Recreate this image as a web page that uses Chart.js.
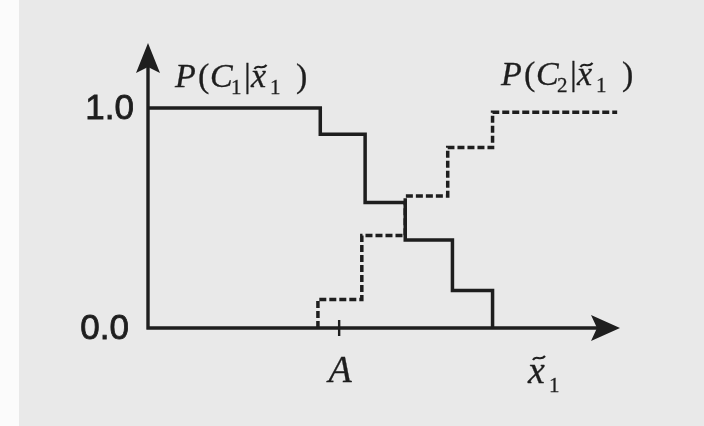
<!DOCTYPE html>
<html>
<head>
<meta charset="utf-8">
<script src="https://cdn.jsdelivr.net/npm/chart.js@4.4.1/dist/chart.umd.min.js"></script>
<style>
  html, body { margin: 0; padding: 0; background: #e9e9e9; }
</style>
</head>
<body>
<canvas id="stepChart" width="704" height="426"></canvas>
<script>
// step edges (x) and levels (y), x axis 0..100
const c1X = [0, 36.5, 46, 54.5, 64.5, 73];
const c1Y = [1.0, 0.88, 0.57, 0.40, 0.17, 0.0];
const c2X = [36.0, 45.3, 54.5, 63.5, 73, 99.4];
const c2Y = [0.0, 0.13, 0.42, 0.60, 0.82, 0.98];
const yTickValues = [0.0, 1.0];
const markA = 40.5;

const INK = "#1e1e1e";
const SERIF = "'Liberation Serif', 'Times New Roman', Times, serif";
const SANS = "'Liberation Sans', Arial, Helvetica, sans-serif";

function tilde(ctx, cx, ty) {
  ctx.save();
  ctx.lineWidth = 2.2;
  ctx.strokeStyle = INK;
  ctx.beginPath();
  ctx.moveTo(cx - 6, ty + 2);
  ctx.bezierCurveTo(cx - 3, ty - 4, cx + 1, ty + 4, cx + 6, ty - 2);
  ctx.stroke();
  ctx.restore();
}

// text with an optional hairline stroke so it reads as heavy as the scan
function heavyText(ctx, t, x, y, w) {
  ctx.fillText(t, x, y);
  if (w) {
    ctx.lineWidth = w;
    ctx.strokeStyle = INK;
    ctx.strokeText(t, x, y);
  }
}

// P(C_n | x~_1) drawn glyph by glyph
function condProb(ctx, x0, y0, n) {
  const it = "italic 34px " + SERIF;
  const rm = "34px " + SERIF;
  const sub = "21px " + SERIF;
  const parts = [
    { t: "P", f: it, dx: 0 },
    { t: "(", f: rm, dx: 23 },
    { t: "C", f: it, dx: 35 },
    { t: String(n), f: sub, dx: 56, dy: 7 },
    { t: "|", f: rm, dx: 69 },
    { t: "x", f: it, dx: 76, tilde: true },
    { t: "1", f: sub, dx: 95, dy: 7 },
    { t: ")", f: rm, dx: 121 }
  ];
  parts.forEach(p => {
    ctx.font = p.f;
    heavyText(ctx, p.t, x0 + p.dx, y0 + (p.dy || 0), 0.3);
    if (p.tilde) {
      const w = ctx.measureText(p.t).width;
      tilde(ctx, x0 + p.dx + w / 2 + 2, y0 - 20);
    }
  });
}

const decor = {
  id: "decor",
  beforeDraw(chart) {
    const ctx = chart.ctx;
    ctx.save();
    ctx.fillStyle = "#e9e9e9";
    ctx.fillRect(0, 0, chart.width, chart.height);
    ctx.fillStyle = "#fbfbfb";
    ctx.fillRect(0, 0, 19, chart.height);
    ctx.restore();
  },
  beforeDatasetsDraw(chart) {
    const ctx = chart.ctx;
    const xs = chart.scales.x, ys = chart.scales.y;
    const x0 = xs.getPixelForValue(0), y0 = ys.getPixelForValue(0);
    const xEnd = xs.right, yTop = ys.top;
    ctx.save();
    ctx.strokeStyle = INK;
    ctx.fillStyle = INK;
    ctx.lineWidth = 3.4;
    // axes
    ctx.beginPath();
    ctx.moveTo(x0 - 1.5, y0);
    ctx.lineTo(xEnd - 20, y0);
    ctx.moveTo(x0, y0 + 1.5);
    ctx.lineTo(x0, yTop + 22);
    ctx.stroke();
    // arrow heads
    ctx.beginPath();
    ctx.moveTo(xEnd, y0);
    ctx.lineTo(xEnd - 29, y0 - 13);
    ctx.lineTo(xEnd - 23, y0);
    ctx.lineTo(xEnd - 29, y0 + 13);
    ctx.closePath();
    ctx.fill();
    ctx.beginPath();
    ctx.moveTo(x0, yTop);
    ctx.lineTo(x0 - 12, yTop + 30);
    ctx.lineTo(x0, yTop + 24);
    ctx.lineTo(x0 + 12, yTop + 30);
    ctx.closePath();
    ctx.fill();
    // tick at A
    const xa = xs.getPixelForValue(markA);
    ctx.lineWidth = 2.4;
    ctx.beginPath();
    ctx.moveTo(xa, y0 - 8);
    ctx.lineTo(xa, y0 + 8);
    ctx.stroke();
    ctx.restore();
  },
  afterDraw(chart) {
    const ctx = chart.ctx;
    const xs = chart.scales.x, ys = chart.scales.y;
    ctx.save();
    ctx.fillStyle = INK;
    // y tick labels
    ctx.font = "35px " + SANS;
    ctx.textAlign = "right";
    ctx.textBaseline = "middle";
    yTickValues.forEach(v => {
      heavyText(ctx, v.toFixed(1), v === 0 ? 129 : 134, ys.getPixelForValue(v) + 1, 0.8);
    });
    ctx.textAlign = "left";
    ctx.textBaseline = "alphabetic";
    // A under the tick
    ctx.font = "italic 38px " + SERIF;
    ctx.textAlign = "center";
    heavyText(ctx, "A", xs.getPixelForValue(markA) + 1, 382, 0.3);
    ctx.textAlign = "left";
    // x axis label
    ctx.font = "italic 38px " + SERIF;
    heavyText(ctx, "x", 528, 383, 0.3);
    tilde(ctx, 539, 358);
    ctx.font = "21px " + SERIF;
    heavyText(ctx, "1", 549, 392, 0.3);
    // curve labels
    condProb(ctx, 175, 87, 1);
    condProb(ctx, 501, 85, 2);
    ctx.restore();
  }
};

const ctx = document.getElementById("stepChart").getContext("2d");
new Chart(ctx, {
  type: "line",
  data: {
    datasets: [
      {
        label: "P(C1|x1)",
        data: c1X.map((x, i) => ({ x: x, y: c1Y[i] })),
        borderColor: INK,
        borderWidth: 3.5,
        stepped: "before",
        pointRadius: 0,
        fill: false,
        clip: false
      },
      {
        label: "P(C2|x1)",
        data: c2X.map((x, i) => ({ x: x, y: c2Y[i] })),
        borderColor: INK,
        borderWidth: 3.5,
        borderDash: [7, 3],
        borderCapStyle: "butt",
        stepped: "after",
        pointRadius: 0,
        fill: false,
        clip: false
      }
    ]
  },
  options: {
    responsive: false,
    animation: false,
    layout: { padding: { left: 148, right: 84, top: 43, bottom: 98 } },
    plugins: { legend: { display: false }, tooltip: { enabled: false } },
    scales: {
      x: { type: "linear", min: 0, max: 100, display: false },
      y: { type: "linear", min: 0, max: 1.295, display: false }
    }
  },
  plugins: [decor]
});
</script>
</body>
</html>
